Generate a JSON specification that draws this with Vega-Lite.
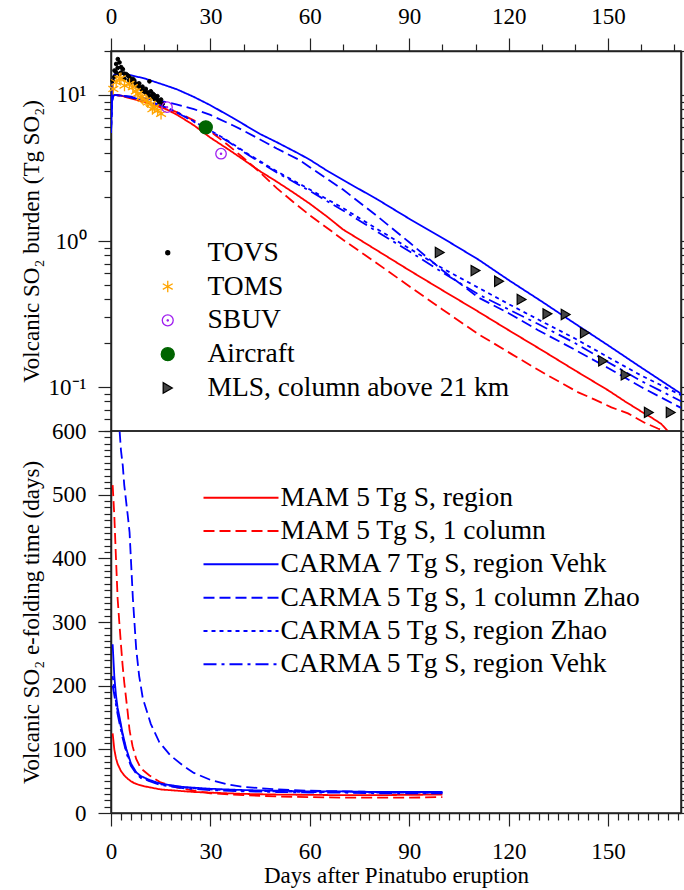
{
  "$schema": "https://vega.github.io/schema/vega-lite/v6.json",
  "padding": {"left": 19, "top": 4, "right": 0, "bottom": 0},
  "spacing": 0,
  "bounds": "flush",
  "background": "white",
  "config": {
    "font": "Liberation Serif",
    "view": {"stroke": "#222", "strokeWidth": 1.5},
    "axis": {"grid": false, "labelFont": "Liberation Serif", "labelFontSize": 23, "labelColor": "black", "titleFont": "Liberation Serif", "titleFontSize": 23, "titleFontWeight": "normal", "titleColor": "black", "domainColor": "#222", "domainWidth": 1.5, "tickColor": "#222", "tickWidth": 1.2},
    "legend": {"labelFont": "Liberation Serif", "labelFontSize": 27.5, "labelColor": "black", "labelLimit": 600}
  },
  "resolve": {
    "scale": {"color": "independent", "strokeDash": "independent", "shape": "independent", "fill": "independent", "stroke": "independent"},
    "legend": {"color": "independent", "strokeDash": "independent", "shape": "independent", "fill": "independent", "stroke": "independent"}
  },
  "datasets": {
    "burden": [
      {"series":"MAM 5 Tg S, region","day":0,"v":9.4},{"series":"MAM 5 Tg S, region","day":0.5,"v":9.8},{"series":"MAM 5 Tg S, region","day":1,"v":10.0},{"series":"MAM 5 Tg S, region","day":3,"v":9.9},{"series":"MAM 5 Tg S, region","day":5,"v":9.6},{"series":"MAM 5 Tg S, region","day":8,"v":9.2},{"series":"MAM 5 Tg S, region","day":10,"v":9.0},{"series":"MAM 5 Tg S, region","day":13,"v":8.5},{"series":"MAM 5 Tg S, region","day":16.6,"v":8.0},{"series":"MAM 5 Tg S, region","day":20,"v":7.3},{"series":"MAM 5 Tg S, region","day":25,"v":6.2},{"series":"MAM 5 Tg S, region","day":30,"v":5.1},{"series":"MAM 5 Tg S, region","day":35,"v":4.3},{"series":"MAM 5 Tg S, region","day":40,"v":3.6},{"series":"MAM 5 Tg S, region","day":45,"v":3.0},{"series":"MAM 5 Tg S, region","day":50,"v":2.55},{"series":"MAM 5 Tg S, region","day":55,"v":2.15},{"series":"MAM 5 Tg S, region","day":60,"v":1.8},{"series":"MAM 5 Tg S, region","day":65,"v":1.48},{"series":"MAM 5 Tg S, region","day":70,"v":1.2},{"series":"MAM 5 Tg S, region","day":80,"v":0.87},{"series":"MAM 5 Tg S, region","day":90,"v":0.63},{"series":"MAM 5 Tg S, region","day":100,"v":0.46},{"series":"MAM 5 Tg S, region","day":110,"v":0.337},{"series":"MAM 5 Tg S, region","day":120,"v":0.245},{"series":"MAM 5 Tg S, region","day":130,"v":0.179},{"series":"MAM 5 Tg S, region","day":140,"v":0.13},{"series":"MAM 5 Tg S, region","day":150,"v":0.095},{"series":"MAM 5 Tg S, region","day":155,"v":0.08},{"series":"MAM 5 Tg S, region","day":160,"v":0.068},{"series":"MAM 5 Tg S, region","day":163,"v":0.062},{"series":"MAM 5 Tg S, region","day":166,"v":0.056},{"series":"MAM 5 Tg S, region","day":168,"v":0.05},
      {"series":"MAM 5 Tg S, 1 column","day":0,"v":9.4},{"series":"MAM 5 Tg S, 1 column","day":0.5,"v":9.8},{"series":"MAM 5 Tg S, 1 column","day":1,"v":10.0},{"series":"MAM 5 Tg S, 1 column","day":3,"v":9.9},{"series":"MAM 5 Tg S, 1 column","day":5,"v":9.7},{"series":"MAM 5 Tg S, 1 column","day":10,"v":9.1},{"series":"MAM 5 Tg S, 1 column","day":15,"v":8.4},{"series":"MAM 5 Tg S, 1 column","day":20,"v":7.6},{"series":"MAM 5 Tg S, 1 column","day":25,"v":6.7},{"series":"MAM 5 Tg S, 1 column","day":28.6,"v":6.0},{"series":"MAM 5 Tg S, 1 column","day":31,"v":5.4},{"series":"MAM 5 Tg S, 1 column","day":35,"v":4.6},{"series":"MAM 5 Tg S, 1 column","day":40,"v":3.7},{"series":"MAM 5 Tg S, 1 column","day":45,"v":2.95},{"series":"MAM 5 Tg S, 1 column","day":50,"v":2.3},{"series":"MAM 5 Tg S, 1 column","day":55,"v":1.85},{"series":"MAM 5 Tg S, 1 column","day":60,"v":1.5},{"series":"MAM 5 Tg S, 1 column","day":66.7,"v":1.16},{"series":"MAM 5 Tg S, 1 column","day":70,"v":1.02},{"series":"MAM 5 Tg S, 1 column","day":80,"v":0.71},{"series":"MAM 5 Tg S, 1 column","day":90,"v":0.49},{"series":"MAM 5 Tg S, 1 column","day":100,"v":0.34},{"series":"MAM 5 Tg S, 1 column","day":110.9,"v":0.23},{"series":"MAM 5 Tg S, 1 column","day":120.9,"v":0.168},{"series":"MAM 5 Tg S, 1 column","day":131,"v":0.123},{"series":"MAM 5 Tg S, 1 column","day":141,"v":0.092},{"series":"MAM 5 Tg S, 1 column","day":146,"v":0.082},{"series":"MAM 5 Tg S, 1 column","day":151,"v":0.0726},{"series":"MAM 5 Tg S, 1 column","day":156,"v":0.066},{"series":"MAM 5 Tg S, 1 column","day":161,"v":0.057},{"series":"MAM 5 Tg S, 1 column","day":165,"v":0.052},{"series":"MAM 5 Tg S, 1 column","day":167,"v":0.05},
      {"series":"CARMA 7 Tg S, region Vehk","day":0,"v":5.5},{"series":"CARMA 7 Tg S, region Vehk","day":0.3,"v":10},{"series":"CARMA 7 Tg S, region Vehk","day":0.6,"v":12.5},{"series":"CARMA 7 Tg S, region Vehk","day":1,"v":13.8},{"series":"CARMA 7 Tg S, region Vehk","day":3,"v":14.0},{"series":"CARMA 7 Tg S, region Vehk","day":5,"v":13.8},{"series":"CARMA 7 Tg S, region Vehk","day":10,"v":13.0},{"series":"CARMA 7 Tg S, region Vehk","day":16.6,"v":11.6},{"series":"CARMA 7 Tg S, region Vehk","day":20,"v":10.9},{"series":"CARMA 7 Tg S, region Vehk","day":25,"v":9.7},{"series":"CARMA 7 Tg S, region Vehk","day":30,"v":8.5},{"series":"CARMA 7 Tg S, region Vehk","day":36.6,"v":7.0},{"series":"CARMA 7 Tg S, region Vehk","day":40,"v":6.3},{"series":"CARMA 7 Tg S, region Vehk","day":45,"v":5.4},{"series":"CARMA 7 Tg S, region Vehk","day":50,"v":4.75},{"series":"CARMA 7 Tg S, region Vehk","day":56.7,"v":3.96},{"series":"CARMA 7 Tg S, region Vehk","day":60,"v":3.6},{"series":"CARMA 7 Tg S, region Vehk","day":65,"v":3.05},{"series":"CARMA 7 Tg S, region Vehk","day":71.8,"v":2.48},{"series":"CARMA 7 Tg S, region Vehk","day":80,"v":1.95},{"series":"CARMA 7 Tg S, region Vehk","day":90,"v":1.42},{"series":"CARMA 7 Tg S, region Vehk","day":100,"v":1.05},{"series":"CARMA 7 Tg S, region Vehk","day":110.9,"v":0.745},{"series":"CARMA 7 Tg S, region Vehk","day":120,"v":0.54},{"series":"CARMA 7 Tg S, region Vehk","day":130,"v":0.385},{"series":"CARMA 7 Tg S, region Vehk","day":140,"v":0.272},{"series":"CARMA 7 Tg S, region Vehk","day":150,"v":0.193},{"series":"CARMA 7 Tg S, region Vehk","day":160,"v":0.136},{"series":"CARMA 7 Tg S, region Vehk","day":172,"v":0.09},
      {"series":"CARMA 5 Tg S, 1 column Zhao","day":0,"v":5.5},{"series":"CARMA 5 Tg S, 1 column Zhao","day":0.3,"v":9},{"series":"CARMA 5 Tg S, 1 column Zhao","day":0.6,"v":9.8},{"series":"CARMA 5 Tg S, 1 column Zhao","day":1,"v":10},{"series":"CARMA 5 Tg S, 1 column Zhao","day":5,"v":9.8},{"series":"CARMA 5 Tg S, 1 column Zhao","day":10,"v":9.5},{"series":"CARMA 5 Tg S, 1 column Zhao","day":15,"v":9.1},{"series":"CARMA 5 Tg S, 1 column Zhao","day":20,"v":8.6},{"series":"CARMA 5 Tg S, 1 column Zhao","day":25,"v":8.0},{"series":"CARMA 5 Tg S, 1 column Zhao","day":30,"v":7.3},{"series":"CARMA 5 Tg S, 1 column Zhao","day":36.7,"v":6.2},{"series":"CARMA 5 Tg S, 1 column Zhao","day":40,"v":5.7},{"series":"CARMA 5 Tg S, 1 column Zhao","day":50,"v":4.3},{"series":"CARMA 5 Tg S, 1 column Zhao","day":56.7,"v":3.6},{"series":"CARMA 5 Tg S, 1 column Zhao","day":60,"v":3.2},{"series":"CARMA 5 Tg S, 1 column Zhao","day":70,"v":2.25},{"series":"CARMA 5 Tg S, 1 column Zhao","day":80,"v":1.5},{"series":"CARMA 5 Tg S, 1 column Zhao","day":90,"v":0.98},{"series":"CARMA 5 Tg S, 1 column Zhao","day":100,"v":0.63},{"series":"CARMA 5 Tg S, 1 column Zhao","day":110.9,"v":0.41},{"series":"CARMA 5 Tg S, 1 column Zhao","day":120,"v":0.32},{"series":"CARMA 5 Tg S, 1 column Zhao","day":128.9,"v":0.245},{"series":"CARMA 5 Tg S, 1 column Zhao","day":140,"v":0.18},{"series":"CARMA 5 Tg S, 1 column Zhao","day":150,"v":0.135},{"series":"CARMA 5 Tg S, 1 column Zhao","day":160,"v":0.1},{"series":"CARMA 5 Tg S, 1 column Zhao","day":172,"v":0.072},
      {"series":"CARMA 5 Tg S, region Zhao","day":0,"v":5.5},{"series":"CARMA 5 Tg S, region Zhao","day":0.3,"v":9},{"series":"CARMA 5 Tg S, region Zhao","day":0.6,"v":9.8},{"series":"CARMA 5 Tg S, region Zhao","day":1,"v":10},{"series":"CARMA 5 Tg S, region Zhao","day":3,"v":9.9},{"series":"CARMA 5 Tg S, region Zhao","day":5,"v":9.7},{"series":"CARMA 5 Tg S, region Zhao","day":10,"v":9.2},{"series":"CARMA 5 Tg S, region Zhao","day":15,"v":8.5},{"series":"CARMA 5 Tg S, region Zhao","day":20,"v":7.6},{"series":"CARMA 5 Tg S, region Zhao","day":25,"v":6.6},{"series":"CARMA 5 Tg S, region Zhao","day":30,"v":5.7},{"series":"CARMA 5 Tg S, region Zhao","day":35,"v":4.9},{"series":"CARMA 5 Tg S, region Zhao","day":41.7,"v":3.9},{"series":"CARMA 5 Tg S, region Zhao","day":50,"v":3.0},{"series":"CARMA 5 Tg S, region Zhao","day":60,"v":2.25},{"series":"CARMA 5 Tg S, region Zhao","day":70,"v":1.68},{"series":"CARMA 5 Tg S, region Zhao","day":80,"v":1.22},{"series":"CARMA 5 Tg S, region Zhao","day":90,"v":0.89},{"series":"CARMA 5 Tg S, region Zhao","day":100,"v":0.65},{"series":"CARMA 5 Tg S, region Zhao","day":110.9,"v":0.478},{"series":"CARMA 5 Tg S, region Zhao","day":120,"v":0.37},{"series":"CARMA 5 Tg S, region Zhao","day":128.9,"v":0.29},{"series":"CARMA 5 Tg S, region Zhao","day":140,"v":0.215},{"series":"CARMA 5 Tg S, region Zhao","day":150,"v":0.16},{"series":"CARMA 5 Tg S, region Zhao","day":160,"v":0.12},{"series":"CARMA 5 Tg S, region Zhao","day":172,"v":0.088},
      {"series":"CARMA 5 Tg S, region Vehk","day":0,"v":5.5},{"series":"CARMA 5 Tg S, region Vehk","day":0.3,"v":9},{"series":"CARMA 5 Tg S, region Vehk","day":0.6,"v":9.8},{"series":"CARMA 5 Tg S, region Vehk","day":1,"v":10},{"series":"CARMA 5 Tg S, region Vehk","day":3,"v":9.9},{"series":"CARMA 5 Tg S, region Vehk","day":5,"v":9.7},{"series":"CARMA 5 Tg S, region Vehk","day":10,"v":9.2},{"series":"CARMA 5 Tg S, region Vehk","day":15,"v":8.5},{"series":"CARMA 5 Tg S, region Vehk","day":20,"v":7.55},{"series":"CARMA 5 Tg S, region Vehk","day":25,"v":6.55},{"series":"CARMA 5 Tg S, region Vehk","day":30,"v":5.65},{"series":"CARMA 5 Tg S, region Vehk","day":35,"v":4.85},{"series":"CARMA 5 Tg S, region Vehk","day":41.7,"v":3.85},{"series":"CARMA 5 Tg S, region Vehk","day":50,"v":2.95},{"series":"CARMA 5 Tg S, region Vehk","day":60,"v":2.2},{"series":"CARMA 5 Tg S, region Vehk","day":70,"v":1.62},{"series":"CARMA 5 Tg S, region Vehk","day":80,"v":1.17},{"series":"CARMA 5 Tg S, region Vehk","day":90,"v":0.85},{"series":"CARMA 5 Tg S, region Vehk","day":100,"v":0.61},{"series":"CARMA 5 Tg S, region Vehk","day":110.9,"v":0.43},{"series":"CARMA 5 Tg S, region Vehk","day":120,"v":0.34},{"series":"CARMA 5 Tg S, region Vehk","day":128.9,"v":0.27},{"series":"CARMA 5 Tg S, region Vehk","day":140,"v":0.2},{"series":"CARMA 5 Tg S, region Vehk","day":150,"v":0.148},{"series":"CARMA 5 Tg S, region Vehk","day":160,"v":0.11},{"series":"CARMA 5 Tg S, region Vehk","day":172,"v":0.08}
    ],
    "obs": [
      {"source":"TOVS","day":2.06,"v":17.6},{"source":"TOVS","day":1.56,"v":16.3},{"source":"TOVS","day":2.56,"v":16.7},{"source":"TOVS","day":1.06,"v":14.7},{"source":"TOVS","day":1.56,"v":14.3},{"source":"TOVS","day":3.07,"v":15.5},{"source":"TOVS","day":3.57,"v":15.0},{"source":"TOVS","day":2.56,"v":13.9},{"source":"TOVS","day":4.57,"v":13.9},{"source":"TOVS","day":5.08,"v":13.6},{"source":"TOVS","day":5.58,"v":13.2},{"source":"TOVS","day":6.58,"v":12.9},{"source":"TOVS","day":7.09,"v":12.2},{"source":"TOVS","day":7.59,"v":11.6},{"source":"TOVS","day":8.1,"v":11.9},{"source":"TOVS","day":8.6,"v":11.3},{"source":"TOVS","day":9.1,"v":11.0},{"source":"TOVS","day":9.6,"v":10.7},{"source":"TOVS","day":10.1,"v":10.5},{"source":"TOVS","day":10.6,"v":10.3},{"source":"TOVS","day":11.1,"v":10.4},{"source":"TOVS","day":11.6,"v":12.4},{"source":"TOVS","day":11.6,"v":9.9},{"source":"TOVS","day":12.1,"v":9.65},{"source":"TOVS","day":12.6,"v":10.2},{"source":"TOVS","day":13.1,"v":9.4},{"source":"TOVS","day":13.6,"v":9.5},{"source":"TOVS","day":14.1,"v":9.2},{"source":"TOVS","day":14.6,"v":8.9},{"source":"TOVS","day":15.1,"v":9.3},{"source":"TOVS","day":15.6,"v":8.7},{"source":"TOVS","day":4.07,"v":12.9},{"source":"TOVS","day":6.08,"v":12.2},{"source":"TOVS","day":0.5,"v":12.5},{"source":"TOVS","day":1.0,"v":13.3},{"source":"TOVS","day":3.0,"v":14.2},{"source":"TOVS","day":4.0,"v":14.0},{"source":"TOVS","day":5.5,"v":12.6},{"source":"TOVS","day":7.0,"v":12.6},{"source":"TOVS","day":8.5,"v":12.0},{"source":"TOVS","day":9.5,"v":11.4},{"source":"TOVS","day":10.5,"v":11.0},{"source":"TOVS","day":12.0,"v":10.6},{"source":"TOVS","day":13.0,"v":10.0},{"source":"TOVS","day":14.0,"v":9.8},{"source":"TOVS","day":2.0,"v":15.3},
      {"source":"TOMS","day":1.56,"v":12.2},{"source":"TOMS","day":2.56,"v":12.9},{"source":"TOMS","day":4.07,"v":11.6},{"source":"TOMS","day":5.58,"v":11.9},{"source":"TOMS","day":6.58,"v":11.3},{"source":"TOMS","day":8.1,"v":10.2},{"source":"TOMS","day":9.1,"v":9.65},{"source":"TOMS","day":9.6,"v":9.4},{"source":"TOMS","day":10.6,"v":9.2},{"source":"TOMS","day":11.1,"v":8.9},{"source":"TOMS","day":12.1,"v":8.7},{"source":"TOMS","day":13.1,"v":8.24},{"source":"TOMS","day":14.1,"v":7.83},{"source":"TOMS","day":15.1,"v":7.43},{"source":"TOMS","day":0.7,"v":11.0},{"source":"TOMS","day":3.0,"v":13.0},{"source":"TOMS","day":7.5,"v":10.6},{"source":"TOMS","day":12.5,"v":8.0},
      {"source":"SBUV","day":16.9,"v":8.25},{"source":"SBUV","day":33.2,"v":3.96},
      {"source":"Aircraft","day":28.6,"v":6.0},
      {"source":"MLS, column above 21 km","day":99.2,"v":0.835},{"source":"MLS, column above 21 km","day":110,"v":0.627},{"source":"MLS, column above 21 km","day":117.1,"v":0.53},{"source":"MLS, column above 21 km","day":123.9,"v":0.398},{"source":"MLS, column above 21 km","day":131.7,"v":0.317},{"source":"MLS, column above 21 km","day":137.2,"v":0.314},{"source":"MLS, column above 21 km","day":143,"v":0.235},{"source":"MLS, column above 21 km","day":148.5,"v":0.151},{"source":"MLS, column above 21 km","day":155.3,"v":0.121},{"source":"MLS, column above 21 km","day":162.3,"v":0.067},{"source":"MLS, column above 21 km","day":168.9,"v":0.067}
    ],
    "efold": [
      {"series":"MAM 5 Tg S, region","day":0.5,"v":125},{"series":"MAM 5 Tg S, region","day":1,"v":100},{"series":"MAM 5 Tg S, region","day":1.5,"v":86},{"series":"MAM 5 Tg S, region","day":2,"v":77},{"series":"MAM 5 Tg S, region","day":3,"v":66},{"series":"MAM 5 Tg S, region","day":4,"v":59},{"series":"MAM 5 Tg S, region","day":5,"v":54},{"series":"MAM 5 Tg S, region","day":6,"v":50},{"series":"MAM 5 Tg S, region","day":7,"v":47},{"series":"MAM 5 Tg S, region","day":8,"v":45},{"series":"MAM 5 Tg S, region","day":10,"v":42},{"series":"MAM 5 Tg S, region","day":12,"v":40},{"series":"MAM 5 Tg S, region","day":15,"v":37},{"series":"MAM 5 Tg S, region","day":20,"v":35},{"series":"MAM 5 Tg S, region","day":25,"v":33},{"series":"MAM 5 Tg S, region","day":30,"v":32},{"series":"MAM 5 Tg S, region","day":40,"v":30},{"series":"MAM 5 Tg S, region","day":50,"v":29},{"series":"MAM 5 Tg S, region","day":60,"v":28.5},{"series":"MAM 5 Tg S, region","day":70,"v":28},{"series":"MAM 5 Tg S, region","day":80,"v":28},{"series":"MAM 5 Tg S, region","day":90,"v":28.5},{"series":"MAM 5 Tg S, region","day":100,"v":29},
      {"series":"MAM 5 Tg S, 1 column","day":0.5,"v":515},{"series":"MAM 5 Tg S, 1 column","day":1,"v":467},{"series":"MAM 5 Tg S, 1 column","day":1.5,"v":400},{"series":"MAM 5 Tg S, 1 column","day":2,"v":337},{"series":"MAM 5 Tg S, 1 column","day":2.5,"v":300},{"series":"MAM 5 Tg S, 1 column","day":3,"v":265},{"series":"MAM 5 Tg S, 1 column","day":3.5,"v":232},{"series":"MAM 5 Tg S, 1 column","day":4,"v":205},{"series":"MAM 5 Tg S, 1 column","day":5,"v":160},{"series":"MAM 5 Tg S, 1 column","day":5.6,"v":130},{"series":"MAM 5 Tg S, 1 column","day":6.5,"v":105},{"series":"MAM 5 Tg S, 1 column","day":7.6,"v":85},{"series":"MAM 5 Tg S, 1 column","day":9,"v":70},{"series":"MAM 5 Tg S, 1 column","day":11.6,"v":59},{"series":"MAM 5 Tg S, 1 column","day":15,"v":48},{"series":"MAM 5 Tg S, 1 column","day":20,"v":40},{"series":"MAM 5 Tg S, 1 column","day":25,"v":35},{"series":"MAM 5 Tg S, 1 column","day":30,"v":31},{"series":"MAM 5 Tg S, 1 column","day":40,"v":28},{"series":"MAM 5 Tg S, 1 column","day":50,"v":26},{"series":"MAM 5 Tg S, 1 column","day":60,"v":25},{"series":"MAM 5 Tg S, 1 column","day":70,"v":24},{"series":"MAM 5 Tg S, 1 column","day":80,"v":24},{"series":"MAM 5 Tg S, 1 column","day":90,"v":24},{"series":"MAM 5 Tg S, 1 column","day":100,"v":25},
      {"series":"CARMA 7 Tg S, region Vehk","day":0.5,"v":265},{"series":"CARMA 7 Tg S, region Vehk","day":1,"v":215},{"series":"CARMA 7 Tg S, region Vehk","day":1.5,"v":185},{"series":"CARMA 7 Tg S, region Vehk","day":2,"v":165},{"series":"CARMA 7 Tg S, region Vehk","day":2.6,"v":150},{"series":"CARMA 7 Tg S, region Vehk","day":3.5,"v":125},{"series":"CARMA 7 Tg S, region Vehk","day":4.6,"v":101},{"series":"CARMA 7 Tg S, region Vehk","day":6,"v":78},{"series":"CARMA 7 Tg S, region Vehk","day":7.6,"v":64},{"series":"CARMA 7 Tg S, region Vehk","day":9,"v":58},{"series":"CARMA 7 Tg S, region Vehk","day":11.6,"v":52},{"series":"CARMA 7 Tg S, region Vehk","day":15,"v":46},{"series":"CARMA 7 Tg S, region Vehk","day":21.6,"v":41},{"series":"CARMA 7 Tg S, region Vehk","day":30,"v":38},{"series":"CARMA 7 Tg S, region Vehk","day":40,"v":36},{"series":"CARMA 7 Tg S, region Vehk","day":50,"v":35},{"series":"CARMA 7 Tg S, region Vehk","day":60,"v":34},{"series":"CARMA 7 Tg S, region Vehk","day":70,"v":34},{"series":"CARMA 7 Tg S, region Vehk","day":80,"v":33},{"series":"CARMA 7 Tg S, region Vehk","day":90,"v":33},{"series":"CARMA 7 Tg S, region Vehk","day":100,"v":33},
      {"series":"CARMA 5 Tg S, 1 column Zhao","day":2.0,"v":800},{"series":"CARMA 5 Tg S, 1 column Zhao","day":2.6,"v":600},{"series":"CARMA 5 Tg S, 1 column Zhao","day":3,"v":570},{"series":"CARMA 5 Tg S, 1 column Zhao","day":3.55,"v":546},{"series":"CARMA 5 Tg S, 1 column Zhao","day":4,"v":515},{"series":"CARMA 5 Tg S, 1 column Zhao","day":5,"v":470},{"series":"CARMA 5 Tg S, 1 column Zhao","day":5.6,"v":441},{"series":"CARMA 5 Tg S, 1 column Zhao","day":6.6,"v":337},{"series":"CARMA 5 Tg S, 1 column Zhao","day":7.6,"v":258},{"series":"CARMA 5 Tg S, 1 column Zhao","day":8.5,"v":215},{"series":"CARMA 5 Tg S, 1 column Zhao","day":9.6,"v":180},{"series":"CARMA 5 Tg S, 1 column Zhao","day":12,"v":140},{"series":"CARMA 5 Tg S, 1 column Zhao","day":14.6,"v":111},{"series":"CARMA 5 Tg S, 1 column Zhao","day":18,"v":90},{"series":"CARMA 5 Tg S, 1 column Zhao","day":21.6,"v":75},{"series":"CARMA 5 Tg S, 1 column Zhao","day":25,"v":63},{"series":"CARMA 5 Tg S, 1 column Zhao","day":30,"v":52},{"series":"CARMA 5 Tg S, 1 column Zhao","day":35,"v":45},{"series":"CARMA 5 Tg S, 1 column Zhao","day":40,"v":41},{"series":"CARMA 5 Tg S, 1 column Zhao","day":50,"v":37},{"series":"CARMA 5 Tg S, 1 column Zhao","day":60,"v":35},{"series":"CARMA 5 Tg S, 1 column Zhao","day":70,"v":34},{"series":"CARMA 5 Tg S, 1 column Zhao","day":80,"v":33},{"series":"CARMA 5 Tg S, 1 column Zhao","day":90,"v":32},{"series":"CARMA 5 Tg S, 1 column Zhao","day":100,"v":32},
      {"series":"CARMA 5 Tg S, region Zhao","day":0.5,"v":215},{"series":"CARMA 5 Tg S, region Zhao","day":1,"v":195},{"series":"CARMA 5 Tg S, region Zhao","day":1.5,"v":175},{"series":"CARMA 5 Tg S, region Zhao","day":2,"v":160},{"series":"CARMA 5 Tg S, region Zhao","day":2.6,"v":145},{"series":"CARMA 5 Tg S, region Zhao","day":3.5,"v":122},{"series":"CARMA 5 Tg S, region Zhao","day":4.6,"v":98},{"series":"CARMA 5 Tg S, region Zhao","day":6,"v":76},{"series":"CARMA 5 Tg S, region Zhao","day":7.6,"v":63},{"series":"CARMA 5 Tg S, region Zhao","day":9,"v":56},{"series":"CARMA 5 Tg S, region Zhao","day":11.6,"v":51},{"series":"CARMA 5 Tg S, region Zhao","day":15,"v":45},{"series":"CARMA 5 Tg S, region Zhao","day":21.6,"v":40},{"series":"CARMA 5 Tg S, region Zhao","day":30,"v":37},{"series":"CARMA 5 Tg S, region Zhao","day":40,"v":35},{"series":"CARMA 5 Tg S, region Zhao","day":50,"v":34},{"series":"CARMA 5 Tg S, region Zhao","day":60,"v":33},{"series":"CARMA 5 Tg S, region Zhao","day":70,"v":33},{"series":"CARMA 5 Tg S, region Zhao","day":80,"v":32},{"series":"CARMA 5 Tg S, region Zhao","day":90,"v":32},{"series":"CARMA 5 Tg S, region Zhao","day":100,"v":32},
      {"series":"CARMA 5 Tg S, region Vehk","day":0.5,"v":200},{"series":"CARMA 5 Tg S, region Vehk","day":1,"v":185},{"series":"CARMA 5 Tg S, region Vehk","day":1.5,"v":170},{"series":"CARMA 5 Tg S, region Vehk","day":2,"v":155},{"series":"CARMA 5 Tg S, region Vehk","day":2.6,"v":140},{"series":"CARMA 5 Tg S, region Vehk","day":3.5,"v":118},{"series":"CARMA 5 Tg S, region Vehk","day":4.6,"v":95},{"series":"CARMA 5 Tg S, region Vehk","day":6,"v":74},{"series":"CARMA 5 Tg S, region Vehk","day":7.6,"v":62},{"series":"CARMA 5 Tg S, region Vehk","day":9,"v":55},{"series":"CARMA 5 Tg S, region Vehk","day":11.6,"v":50},{"series":"CARMA 5 Tg S, region Vehk","day":15,"v":44},{"series":"CARMA 5 Tg S, region Vehk","day":21.6,"v":39},{"series":"CARMA 5 Tg S, region Vehk","day":30,"v":36},{"series":"CARMA 5 Tg S, region Vehk","day":40,"v":34},{"series":"CARMA 5 Tg S, region Vehk","day":50,"v":33},{"series":"CARMA 5 Tg S, region Vehk","day":60,"v":32},{"series":"CARMA 5 Tg S, region Vehk","day":70,"v":32},{"series":"CARMA 5 Tg S, region Vehk","day":80,"v":31},{"series":"CARMA 5 Tg S, region Vehk","day":90,"v":31},{"series":"CARMA 5 Tg S, region Vehk","day":100,"v":31}
    ]
  },
  "vconcat": [
    {
      "width": 570,
      "height": 380,
      "resolve": {"axis": {"x": "independent", "y": "independent"}},
      "layer": [
        {
          "data": {"name": "burden"},
          "mark": {"type": "line", "clip": true, "strokeWidth": 1.8},
          "encoding": {
            "x": {"field": "day", "type": "quantitative", "scale": {"domain": [0, 172], "nice": false, "zero": false},
                  "axis": {"orient": "top", "values": [0, 30, 60, 90, 120, 150], "tickSize": 13, "labelPadding": 10, "title": null, "labelFlush": false}},
            "y": {"field": "v", "type": "quantitative", "scale": {"type": "log", "domain": [0.05, 20], "nice": false},
                  "axis": {"orient": "left", "values": [0.1, 1, 10], "tickSize": 13, "labelPadding": 12, "labelExpr": "datum.value >= 9 ? '10¹' : datum.value >= 0.9 ? '10⁰' : '10⁻¹'", "title": "Volcanic SO₂ burden (Tg SO₂)", "titleX": -68}},
            "color": {"field": "series", "type": "nominal", "legend": null,
                      "scale": {"domain": ["MAM 5 Tg S, region", "MAM 5 Tg S, 1 column", "CARMA 7 Tg S, region Vehk", "CARMA 5 Tg S, 1 column Zhao", "CARMA 5 Tg S, region Zhao", "CARMA 5 Tg S, region Vehk"], "range": ["#ff0000", "#ff0000", "#0000ff", "#0000ff", "#0000ff", "#0000ff"]}},
            "strokeDash": {"field": "series", "type": "nominal", "legend": null,
                      "scale": {"domain": ["MAM 5 Tg S, region", "MAM 5 Tg S, 1 column", "CARMA 7 Tg S, region Vehk", "CARMA 5 Tg S, 1 column Zhao", "CARMA 5 Tg S, region Zhao", "CARMA 5 Tg S, region Vehk"], "range": [[1, 0], [11, 5], [1, 0], [11, 5], [4, 4], [13, 5, 3, 5]]}}
          }
        },
        {
          "data": {"name": "obs"},
          "transform": [{"filter": "datum.source === 'TOVS'"}],
          "mark": {"type": "point", "size": 14, "strokeWidth": 1, "opacity": 1, "filled": true},
          "encoding": {
            "x": {"field": "day", "type": "quantitative", "axis": {"orient": "top", "values": [10, 20, 40, 50, 70, 80, 100, 110, 130, 140, 160, 170], "tickSize": 7, "labels": false, "title": null, "domain": false}},
            "y": {"field": "v", "type": "quantitative", "axis": {"orient": "left", "values": [0.05, 0.06, 0.07, 0.08, 0.09, 0.2, 0.3, 0.4, 0.5, 0.6, 0.7, 0.8, 0.9, 2, 3, 4, 5, 6, 7, 8, 9, 20], "tickSize": 7, "labels": false, "title": null, "domain": false}},
            "shape": {"field": "source", "type": "nominal", "scale": {"domain": ["TOVS", "TOMS", "SBUV", "Aircraft", "MLS, column above 21 km"], "range": ["circle", "M0,-1L0,1M-0.87,-0.5L0.87,0.5M-0.87,0.5L0.87,-0.5", "M-1,0A1,1,0,1,1,1,0A1,1,0,1,1,-1,0M-0.12,0A0.12,0.12,0,1,1,0.12,0A0.12,0.12,0,1,1,-0.12,0", "circle", "triangle-right"]},
                      "legend": {"orient": "none", "legendX": 43, "legendY": 188, "title": null, "padding": 0, "labelFont": "Liberation Serif", "labelFontSize": 27.5, "labelColor": "black", "labelOffset": 26, "labelLimit": 600, "rowPadding": 4.8, "clipHeight": 27.5, "symbolSize": 150, "symbolStrokeWidth": 1.3, "symbolOpacity": 1, "encode": {"symbols": {"update": {"size": {"signal": "datum.value === 'TOVS' ? 16 : datum.value === 'Aircraft' ? 170 : datum.value === 'SBUV' ? 120 : datum.value === 'TOMS' ? 130 : 110"}}}}}},
            "fill": {"field": "source", "type": "nominal", "scale": {"domain": ["TOVS", "TOMS", "SBUV", "Aircraft", "MLS, column above 21 km"], "range": ["#000000", "transparent", "transparent", "#006400", "#444444"]},
                      "legend": {"orient": "none", "legendX": 43, "legendY": 188, "title": null, "padding": 0, "labelFont": "Liberation Serif", "labelFontSize": 27.5, "labelColor": "black", "labelOffset": 26, "labelLimit": 600, "rowPadding": 4.8, "clipHeight": 27.5, "symbolSize": 150, "symbolStrokeWidth": 1.3, "symbolOpacity": 1, "encode": {"symbols": {"update": {"size": {"signal": "datum.value === 'TOVS' ? 16 : datum.value === 'Aircraft' ? 170 : datum.value === 'SBUV' ? 120 : datum.value === 'TOMS' ? 130 : 110"}}}}}},
            "stroke": {"field": "source", "type": "nominal", "scale": {"domain": ["TOVS", "TOMS", "SBUV", "Aircraft", "MLS, column above 21 km"], "range": ["#000000", "#ffa500", "#a020f0", "#006400", "#000000"]},
                      "legend": {"orient": "none", "legendX": 43, "legendY": 188, "title": null, "padding": 0, "labelFont": "Liberation Serif", "labelFontSize": 27.5, "labelColor": "black", "labelOffset": 26, "labelLimit": 600, "rowPadding": 4.8, "clipHeight": 27.5, "symbolSize": 150, "symbolStrokeWidth": 1.3, "symbolOpacity": 1, "encode": {"symbols": {"update": {"size": {"signal": "datum.value === 'TOVS' ? 16 : datum.value === 'Aircraft' ? 170 : datum.value === 'SBUV' ? 120 : datum.value === 'TOMS' ? 130 : 110"}}}}}}
          }
        },
        {
          "data": {"name": "obs"},
          "transform": [{"filter": "datum.source === 'TOMS'"}],
          "mark": {"type": "point", "size": 130, "strokeWidth": 1.3, "opacity": 1, "filled": true},
          "encoding": {
            "x": {"field": "day", "type": "quantitative", "axis": null},
            "y": {"field": "v", "type": "quantitative", "axis": {"orient": "right", "values": [0.1, 1, 10], "tickSize": 13, "labels": false, "title": null}},
            "shape": {"field": "source", "type": "nominal"},
            "fill": {"field": "source", "type": "nominal"},
            "stroke": {"field": "source", "type": "nominal"}
          }
        },
        {
          "data": {"name": "obs"},
          "transform": [{"filter": "datum.source === 'SBUV'"}],
          "mark": {"type": "point", "size": 110, "strokeWidth": 1.3, "opacity": 1, "filled": true},
          "encoding": {
            "x": {"field": "day", "type": "quantitative", "axis": null},
            "y": {"field": "v", "type": "quantitative", "axis": {"orient": "right", "values": [0.05, 0.06, 0.07, 0.08, 0.09, 0.2, 0.3, 0.4, 0.5, 0.6, 0.7, 0.8, 0.9, 2, 3, 4, 5, 6, 7, 8, 9, 20], "tickSize": 7, "labels": false, "title": null, "domain": false}},
            "shape": {"field": "source", "type": "nominal"},
            "fill": {"field": "source", "type": "nominal"},
            "stroke": {"field": "source", "type": "nominal"}
          }
        },
        {
          "data": {"name": "obs"},
          "transform": [{"filter": "datum.source === 'Aircraft'"}],
          "mark": {"type": "point", "size": 170, "strokeWidth": 1.3, "opacity": 1, "filled": true},
          "encoding": {
            "x": {"field": "day", "type": "quantitative", "axis": null},
            "y": {"field": "v", "type": "quantitative", "axis": null},
            "shape": {"field": "source", "type": "nominal"},
            "fill": {"field": "source", "type": "nominal"},
            "stroke": {"field": "source", "type": "nominal"}
          }
        },
        {
          "data": {"name": "obs"},
          "transform": [{"filter": "datum.source === 'MLS, column above 21 km'"}],
          "mark": {"type": "point", "size": 105, "strokeWidth": 1.2, "opacity": 1, "filled": true},
          "encoding": {
            "x": {"field": "day", "type": "quantitative", "axis": null},
            "y": {"field": "v", "type": "quantitative", "axis": null},
            "shape": {"field": "source", "type": "nominal"},
            "fill": {"field": "source", "type": "nominal"},
            "stroke": {"field": "source", "type": "nominal"}
          }
        }
      ]
    },
    {
      "width": 570,
      "height": 382,
      "resolve": {"axis": {"x": "independent", "y": "independent"}},
      "layer": [
        {
          "data": {"name": "efold"},
          "mark": {"type": "line", "clip": true, "strokeWidth": 1.8},
          "encoding": {
            "x": {"field": "day", "type": "quantitative", "scale": {"domain": [0, 172], "nice": false, "zero": false},
                  "axis": {"orient": "bottom", "values": [0, 30, 60, 90, 120, 150], "tickSize": 13, "labelPadding": 14, "title": "Days after Pinatubo eruption", "titlePadding": 1, "labelFlush": false}},
            "y": {"field": "v", "type": "quantitative", "scale": {"domain": [0, 600], "nice": false},
                  "axis": {"orient": "left", "values": [0, 100, 200, 300, 400, 500, 600], "tickSize": 13, "labelPadding": 12, "title": "Volcanic SO₂ e-folding time (days)", "titleX": -68}},
            "color": {"field": "series", "type": "nominal",
                      "scale": {"domain": ["MAM 5 Tg S, region", "MAM 5 Tg S, 1 column", "CARMA 7 Tg S, region Vehk", "CARMA 5 Tg S, 1 column Zhao", "CARMA 5 Tg S, region Zhao", "CARMA 5 Tg S, region Vehk"], "range": ["#ff0000", "#ff0000", "#0000ff", "#0000ff", "#0000ff", "#0000ff"]},
                      "legend": {"orient": "none", "legendX": 91.5, "legendY": 53, "title": null, "padding": 0, "labelFont": "Liberation Serif", "labelFontSize": 27.5, "labelColor": "black", "labelOffset": 1, "labelLimit": 600, "rowPadding": 4.3, "clipHeight": 27.5, "symbolSize": 5625, "symbolStrokeWidth": 2, "symbolType": "stroke"}},
            "strokeDash": {"field": "series", "type": "nominal",
                      "scale": {"domain": ["MAM 5 Tg S, region", "MAM 5 Tg S, 1 column", "CARMA 7 Tg S, region Vehk", "CARMA 5 Tg S, 1 column Zhao", "CARMA 5 Tg S, region Zhao", "CARMA 5 Tg S, region Vehk"], "range": [[1, 0], [11, 5], [1, 0], [11, 5], [4, 4], [13, 5, 3, 5]]},
                      "legend": {"orient": "none", "legendX": 91.5, "legendY": 53, "title": null, "padding": 0, "labelFont": "Liberation Serif", "labelFontSize": 27.5, "labelColor": "black", "labelOffset": 1, "labelLimit": 600, "rowPadding": 4.3, "clipHeight": 27.5, "symbolSize": 5625, "symbolStrokeWidth": 2, "symbolType": "stroke"}}
          }
        },
        {
          "data": {"name": "efold"},
          "mark": {"type": "line", "opacity": 0, "strokeOpacity": 0},
          "encoding": {
            "x": {"field": "day", "type": "quantitative", "axis": {"orient": "bottom", "values": [3,6,9,12,15,18,21,24,27,33,36,39,42,45,48,51,54,57,63,66,69,72,75,78,81,84,87,93,96,99,102,105,108,111,114,117,123,126,129,132,135,138,141,144,147,153,156,159,162,165,168,171], "tickSize": 7, "labels": false, "title": null, "domain": false}},
            "y": {"field": "v", "type": "quantitative", "axis": {"orient": "left", "values": [10,20,30,40,50,60,70,80,90,110,120,130,140,150,160,170,180,190,210,220,230,240,250,260,270,280,290,310,320,330,340,350,360,370,380,390,410,420,430,440,450,460,470,480,490,510,520,530,540,550,560,570,580,590], "tickSize": 7, "labels": false, "title": null, "domain": false}},
            "detail": {"field": "series", "type": "nominal"}
          }
        },
        {
          "data": {"name": "efold"},
          "mark": {"type": "line", "opacity": 0, "strokeOpacity": 0},
          "encoding": {
            "x": {"field": "day", "type": "quantitative", "axis": null},
            "y": {"field": "v", "type": "quantitative", "axis": {"orient": "right", "values": [0, 100, 200, 300, 400, 500, 600], "tickSize": 13, "labels": false, "title": null}},
            "detail": {"field": "series", "type": "nominal"}
          }
        },
        {
          "data": {"name": "efold"},
          "mark": {"type": "line", "opacity": 0, "strokeOpacity": 0},
          "encoding": {
            "x": {"field": "day", "type": "quantitative", "axis": null},
            "y": {"field": "v", "type": "quantitative", "axis": {"orient": "right", "values": [10,20,30,40,50,60,70,80,90,110,120,130,140,150,160,170,180,190,210,220,230,240,250,260,270,280,290,310,320,330,340,350,360,370,380,390,410,420,430,440,450,460,470,480,490,510,520,530,540,550,560,570,580,590], "tickSize": 7, "labels": false, "title": null, "domain": false}},
            "detail": {"field": "series", "type": "nominal"}
          }
        }
      ]
    }
  ]
}
